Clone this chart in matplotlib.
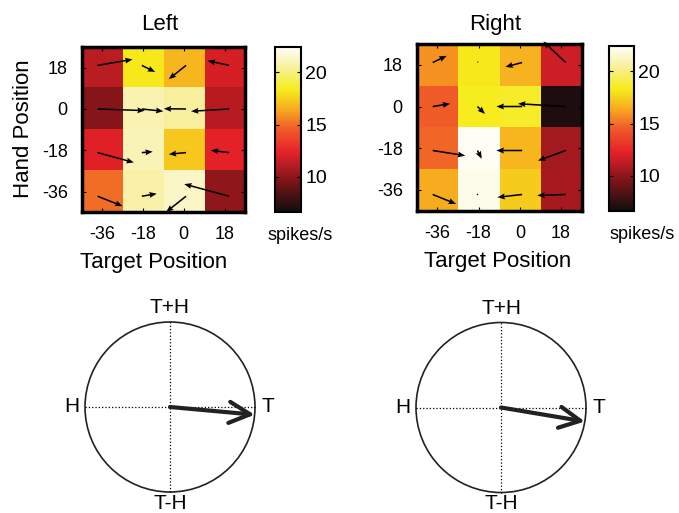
import matplotlib
matplotlib.use("Agg")
import matplotlib.pyplot as plt
import numpy as np
from matplotlib.colors import LinearSegmentedColormap
from matplotlib.patches import Circle

plt.rcParams['font.family'] = ['Liberation Sans', 'DejaVu Sans']
plt.rcParams['axes.unicode_minus'] = False

W, H = 679, 513

positions = [-36, -18, 0, 18]

# firing rate (spikes/s), rows from hand +18 (top) down to hand -36
left_rate = np.array([
    [11.2, 18.2, 16.8, 11.9],
    [9.8, 20.9, 20.5, 11.1],
    [12.2, 21.0, 17.3, 12.3],
    [15.0, 20.7, 21.3, 10.1],
])
right_rate = np.array([
    [15.9, 18.2, 16.7, 11.7],
    [14.6, 18.4, 18.6, 7.0],
    [14.8, 22.3, 16.8, 10.6],
    [16.5, 22.1, 17.4, 10.7],
])

# arrow tails and components
arrow_x = [-38, -18.5, 1, 20]
arrow_y = [19, 0, -19, -38]

left_u = [[15.4, 5.9, -7.6, -9.5],
          [20.8, 9.5, -9.8, -16.8],
          [16.0, 4.8, -7.6, -8.1],
          [11.0, 6.6, -8.8, -19.8]]
left_v = [[2.6, -2.9, -6.0, 2.0],
          [-0.7, -1.0, 0.1, -1.0],
          [-4.3, 0.4, -0.7, 1.0],
          [-4.3, 1.1, -6.9, 5.3]]
right_u = [[6.1, 0.4, -7.3, -9.7],
           [7.6, 3.3, -11.2, -20.8],
           [14.2, 1.9, -11.2, -12.1],
           [10.2, 0.3, -10.8, -12.4]]
right_v = [[2.9, 0.6, -1.9, 9.1],
           [1.2, -3.2, 0.0, 1.2],
           [-2.2, -3.6, 0.0, -4.4],
           [-4.1, 0.0, -1.2, -0.4]]

cbar_ticks = [10, 15, 20]
cmin, cmax = 6.65, 22.45

# population vector angle (deg) in the T / H plane
left_angle = -5.2
right_angle = -9.5
vector_length = 1.0

cmap = LinearSegmentedColormap.from_list("hot_soft", [
    (0.0, '#120d0d'),
    (0.18, '#7a1419'),
    (0.36, '#e62228'),
    (0.50, '#f05a28'),
    (0.62, '#f8aa20'),
    (0.74, '#f6ec1a'),
    (0.88, '#f8f0a0'),
    (1.0, '#fffffa'),
])

fig = plt.figure(figsize=(W / 100, H / 100), dpi=100)


def px_axes(left, top, right, bottom):
    return fig.add_axes([left / W, 1 - bottom / H, (right - left) / W, (bottom - top) / H])


def px_text(x, y, s, **kw):
    fig.text(x / W, 1 - y / H, s, **kw)


def heatmap(box, cbox, rate, u, v):
    ax = px_axes(*box)
    im = ax.imshow(rate, cmap=cmap, vmin=cmin, vmax=cmax, extent=(-45, 27, -45, 27),
                   aspect='auto', interpolation='nearest')
    X, Y = np.meshgrid(arrow_x, arrow_y)
    q = ax.quiver(X, Y, u, v, angles='xy', scale_units='xy', scale=1, width=0.0095,
                  headwidth=3.8, headlength=4.8, headaxislength=4.3, color='k', zorder=3)
    q.set_clip_on(False)
    ax.set_xlim(-45, 27)
    ax.set_ylim(-45, 27)
    ax.set_xticks(positions)
    ax.set_yticks(positions)
    ax.tick_params(direction='in', top=True, right=True, length=3, width=0.8,
                   labelsize=13, pad=10)
    for s in ax.spines.values():
        s.set_linewidth(2.5)

    cax = px_axes(*cbox)
    cb = fig.colorbar(im, cax=cax)
    cb.set_ticks(cbar_ticks)
    cb.outline.set_linewidth(1.5)
    cax.tick_params(direction='in', left=True, right=True, length=3, width=0.8,
                    labelsize=14, pad=3)
    return ax


heatmap((81.7, 47, 245, 212.3), (275, 46.7, 301, 211.7), left_rate, left_u, left_v)
heatmap((416.7, 44, 581.7, 210.7), (609, 45.7, 634, 211), right_rate, right_u, right_v)

px_text(160, 30, "Left", ha='center', va='baseline', fontsize=16)
px_text(495.5, 30, "Right", ha='center', va='baseline', fontsize=16)
px_text(154, 268, "Target Position", ha='center', va='baseline', fontsize=16)
px_text(498, 267.5, "Target Position", ha='center', va='baseline', fontsize=16)
px_text(24, 129, "Hand Position", ha='center', va='center', rotation=90, fontsize=16)
px_text(300, 240, "spikes/s", ha='center', va='baseline', fontsize=13)
px_text(642, 239, "spikes/s", ha='center', va='baseline', fontsize=13)


def vector_plot(cx, cy, angle):
    r = 85
    ax = px_axes(cx - 1.4 * r, cy - 1.4 * r, cx + 1.4 * r, cy + 1.4 * r)
    ax.set_xlim(-1.4, 1.4)
    ax.set_ylim(-1.4, 1.4)
    ax.axis('off')
    ax.add_patch(Circle((0, 0), 1, fill=False, lw=1.2, color='#222222'))
    ax.plot([-1, 1], [0, 0], ls=':', color='k', lw=0.9)
    ax.plot([0, 0], [-1, 1], ls=':', color='k', lw=0.9)
    a = np.deg2rad(angle)
    ax.annotate('', xy=(vector_length * np.cos(a), vector_length * np.sin(a)), xytext=(0, 0),
                arrowprops=dict(arrowstyle='->,head_length=0.75,head_width=0.38', lw=3,
                                color='#222222', shrinkA=0, shrinkB=0, mutation_scale=20))
    ax.text(0, 1.167, "T+H", ha='center', va='center', fontsize=15)
    ax.text(-1.157, 0, "H", ha='center', va='center', fontsize=15)
    ax.text(1.153, 0, "T", ha='center', va='center', fontsize=15)
    ax.text(0, -1.13, "T-H", ha='center', va='center', fontsize=15)


vector_plot(170, 407, left_angle)
vector_plot(501, 407.5, right_angle)

fig.savefig("out.png", dpi=100)
